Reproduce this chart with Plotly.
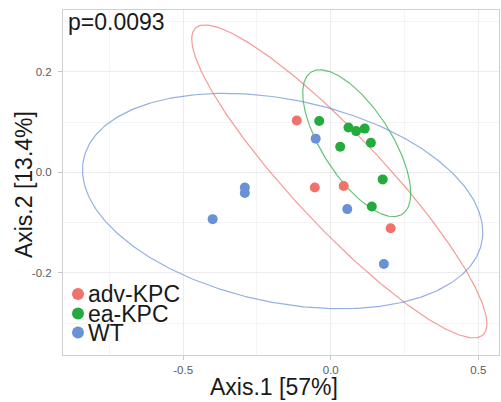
import numpy as np
import plotly.graph_objects as go

# ---- data ----
groups = ["adv-KPC", "ea-KPC", "WT"]
colors = ["#F2716B", "#23AB3D", "#6991D6"]

adv_x = [-0.115, -0.054, 0.044, 0.203]
adv_y = [0.103, -0.030, -0.027, -0.111]
ea_x = [-0.039, 0.060, 0.086, 0.115, 0.032, 0.136, 0.176, 0.139]
ea_y = [0.102, 0.089, 0.082, 0.087, 0.051, 0.059, -0.014, -0.068]
wt_x = [-0.051, -0.291, -0.291, -0.400, 0.056, 0.180]
wt_y = [0.067, -0.030, -0.041, -0.093, -0.073, -0.182]

# ellipse parameters: centre, half-width (x), half-height (y), correlation
ell_cx = [0.029, 0.088, -0.163]
ell_cy = [-0.018, 0.058, -0.057]
ell_w = [0.500, 0.183, 0.678]
ell_h = [0.311, 0.146, 0.214]
ell_rho = [-0.91, -0.68, -0.29]

xs = [adv_x, ea_x, wt_x]
ys = [adv_y, ea_y, wt_y]

font = "Liberation Sans, Arial, sans-serif"
big = 23

fig = go.Figure()

t = np.linspace(0, 2 * np.pi, 361)
for i, g in enumerate(groups):
    ex = ell_cx[i] + ell_w[i] * np.cos(t)
    ey = ell_cy[i] + ell_h[i] * (ell_rho[i] * np.cos(t) + np.sqrt(1 - ell_rho[i] ** 2) * np.sin(t))
    fig.add_trace(go.Scatter(x=ex, y=ey, mode="lines", line=dict(color=colors[i], width=1.2),
                             opacity=0.7, showlegend=False, hoverinfo="skip"))

for i, g in enumerate(groups):
    fig.add_trace(go.Scatter(x=xs[i], y=ys[i], mode="markers", name=g,
                             marker=dict(color=colors[i], size=10, line=dict(width=0)),
                             showlegend=False))

# manual legend (tight spacing like the reference)
leg_rows = [61.0, 41.5, 22.5]  # pixel offsets from bottom of plot area
for i, g in enumerate(groups):
    fig.add_shape(type="circle", xref="paper", yref="paper", xsizemode="pixel", ysizemode="pixel",
                  xanchor=0, yanchor=0, x0=9, x1=21, y0=leg_rows[i] - 6, y1=leg_rows[i] + 6,
                  fillcolor=colors[i], line=dict(width=0))
    fig.add_annotation(text=g, xref="paper", yref="paper", x=0.052, y=leg_rows[i] / 345,
                       xanchor="left", yanchor="middle", showarrow=False,
                       font=dict(family=font, size=big, color="#1a1a1a"))

fig.add_annotation(text="p=0.0093", xref="paper", yref="paper", x=0.006, y=0.966,
                   xanchor="left", yanchor="middle", showarrow=False,
                   font=dict(family=font, size=big, color="#1a1a1a"))
fig.add_annotation(text="Axis.1 [57%]", xref="paper", yref="paper", x=0.484, y=-0.093,
                   xanchor="center", yanchor="middle", showarrow=False,
                   font=dict(family=font, size=big, color="#1a1a1a"))
fig.add_annotation(text="Axis.2 [13.4%]", xref="paper", yref="paper", x=-0.089, y=0.493,
                   xanchor="center", yanchor="middle", showarrow=False, textangle=-90,
                   font=dict(family=font, size=big, color="#1a1a1a"))

axis_common = dict(showgrid=True, gridcolor="#ececec", gridwidth=1, zeroline=False,
                   showline=True, linecolor="#d0d0d0", linewidth=1, mirror=True,
                   ticks="outside", ticklen=4, tickcolor="#c8c8c8",
                   tickfont=dict(family=font, size=11.5, color="#5a5a5a"))

fig.update_xaxes(range=[-0.907, 0.570], tickvals=[-0.5, 0.0, 0.5], ticktext=["-0.5", "0.0", "0.5"],
                 minor=dict(tickvals=[-0.75, -0.25, 0.25], showgrid=True, gridcolor="#f4f4f4", ticks=""),
                 **axis_common)
fig.update_yaxes(range=[-0.363, 0.3227], tickvals=[-0.2, 0.0, 0.2], ticktext=["-0.2", "0.0", "0.2"],
                 minor=dict(tickvals=[-0.3, -0.1, 0.1, 0.3], showgrid=True, gridcolor="#f4f4f4", ticks=""),
                 ticklabelstandoff=4, **axis_common)

fig.update_layout(width=501, height=402, margin=dict(l=63, r=2, t=10, b=47),
                  plot_bgcolor="white", paper_bgcolor="white", showlegend=False)

fig.write_html("out.html", config={"displayModeBar": False},
               post_script="document.body.style.margin='0';document.body.style.overflow='hidden';")
